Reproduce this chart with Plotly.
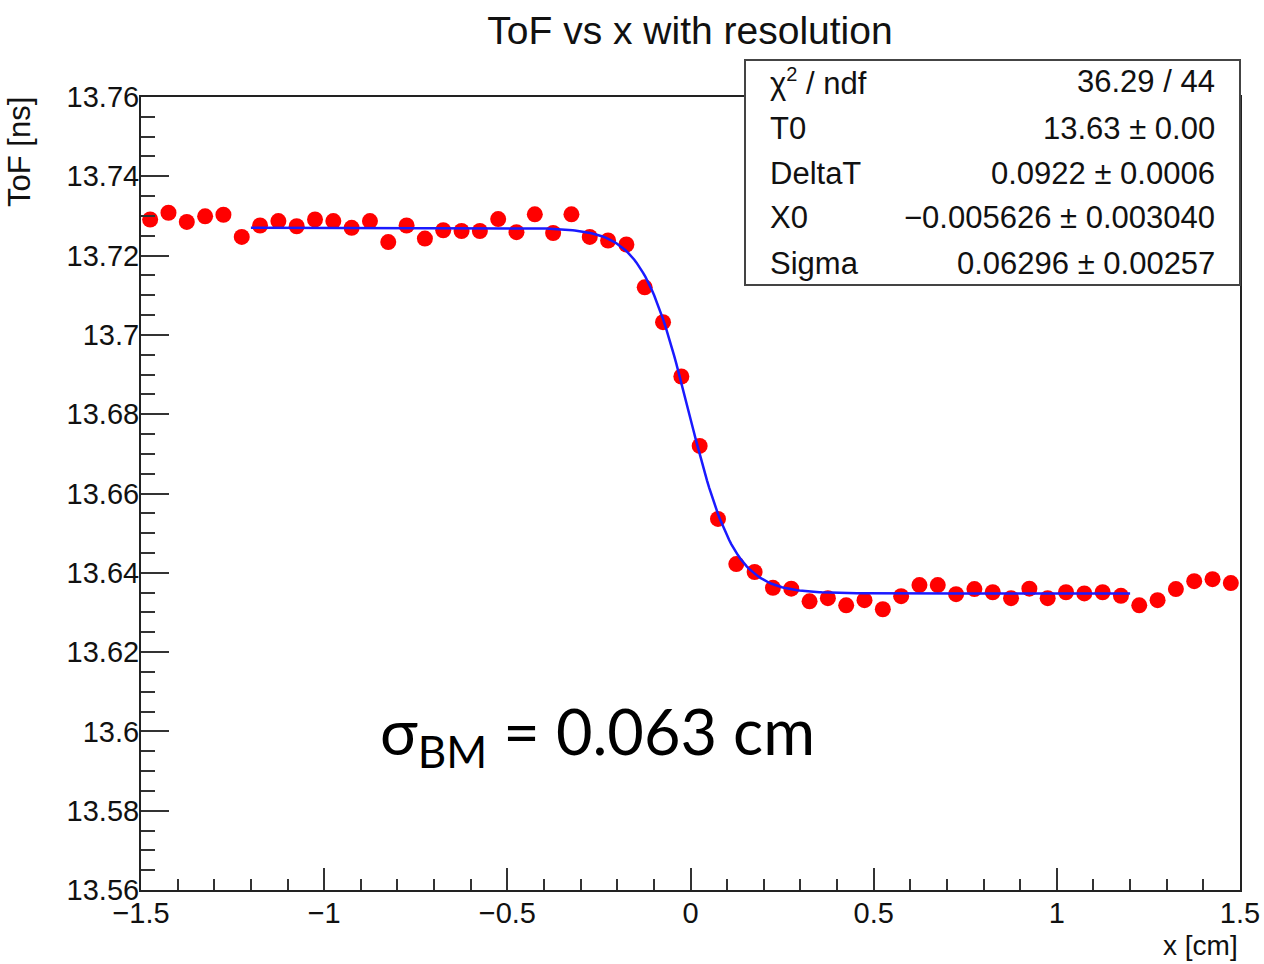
import math
import plotly.graph_objects as go

# ---- data ----
x_centers = [-1.475 + 0.05 * i for i in range(60)]
tof_values = [
    13.7291, 13.7308, 13.7285, 13.7299, 13.7303, 13.7247, 13.7276, 13.7287, 13.7274, 13.7291,
    13.7287, 13.7270, 13.7287, 13.7234, 13.7276, 13.7243, 13.7264, 13.7262, 13.7262, 13.7292,
    13.7259, 13.7304, 13.7257, 13.7304, 13.7247, 13.7238, 13.7228, 13.7120, 13.7032, 13.6895,
    13.6720, 13.6536, 13.6422, 13.6402, 13.6362, 13.6360, 13.6328, 13.6336, 13.6318, 13.6331,
    13.6308, 13.6341, 13.6369, 13.6369, 13.6346, 13.6359, 13.6351, 13.6336, 13.6360, 13.6336,
    13.6351, 13.6348, 13.6351, 13.6342, 13.6318, 13.6331, 13.6359, 13.6379, 13.6384, 13.6374,
]

# fit parameters (from the stats box)
T0 = 13.6348
DeltaT = 0.0922
X0 = -0.005626
Sigma = 0.06296
fit_range = (-1.2, 1.2)

stats_labels = ["χ<sup><span style='font-size:20px'>2</span></sup> / ndf", "T0", "DeltaT", "X0", "Sigma"]
stats_values = ["36.29 / 44", "13.63 ± 0.00", "0.0922 ± 0.0006",
                "−0.005626 ± 0.003040", "0.06296 ± 0.00257"]

x_tickvals = [-1.5, -1, -0.5, 0, 0.5, 1, 1.5]
x_ticktext = ["−1.5", "−1", "−0.5", "0", "0.5", "1", "1.5"]
y_tickvals = [13.56, 13.58, 13.6, 13.62, 13.64, 13.66, 13.68, 13.7, 13.72, 13.74, 13.76]
y_ticktext = ["13.56", "13.58", "13.6", "13.62", "13.64", "13.66", "13.68", "13.7", "13.72", "13.74", "13.76"]

# fit curve from the fit model (Fermi-like step)
n = 400
fit_x = [fit_range[0] + (fit_range[1] - fit_range[0]) * i / (n - 1) for i in range(n)]
fit_y = [T0 + DeltaT / (1.0 + math.exp((xx - X0) / Sigma)) for xx in fit_x]

FONT = "Liberation Sans, Arial, sans-serif"

fig = go.Figure()
fig.add_trace(go.Scatter(x=x_centers, y=tof_values, mode="markers",
                         marker=dict(color="#ff0000", size=16, line=dict(width=0)),
                         showlegend=False))
fig.add_trace(go.Scatter(x=fit_x, y=fit_y, mode="lines",
                         line=dict(color="#1a1aff", width=2.5), showlegend=False))

# layout geometry: plot area 141..1240 x, 97..890 y
L, R, T, B = 141, 1264 - 1240, 97, 964 - 890
W = 1240 - 141
H = 890 - 97


def px(xp):
    return (xp - 141) / W


def py(yp):
    return (890 - yp) / H


axis_common = dict(showline=True, linecolor="#222222", linewidth=2, mirror=True,
                   ticks="inside", tickcolor="#333333", tickwidth=2,
                   showgrid=False, zeroline=False, automargin=False,
                   tickfont=dict(family=FONT, size=29, color="#111111"))

fig.update_layout(
    width=1264, height=964,
    margin=dict(l=L, r=R, t=T, b=B, autoexpand=False),
    paper_bgcolor="white", plot_bgcolor="white",
    title=dict(text="ToF vs x with resolution", x=690 / 1264, xanchor="center",
               y=1 - 30 / 964, yanchor="middle",
               font=dict(family=FONT, size=39, color="#111111")),
    xaxis=dict(range=[-1.5, 1.5], tickvals=x_tickvals, ticktext=x_ticktext, ticklen=22,
               minor=dict(dtick=0.1, ticks="inside", ticklen=11, tickcolor="#333333", tickwidth=2),
               ticklabelstandoff=-4,
               **axis_common),
    yaxis=dict(range=[13.56, 13.76], tickvals=y_tickvals, ticktext=y_ticktext, ticklen=28,
               minor=dict(dtick=0.005, ticks="inside", ticklen=14, tickcolor="#333333", tickwidth=2),
               ticklabelstandoff=-6,
               **axis_common),
)

# axis titles (ROOT style placement)
fig.add_annotation(text="ToF [ns]", xref="paper", yref="paper", x=px(20), y=py(95),
                   xanchor="center", yanchor="top", textangle=-90, showarrow=False,
                   font=dict(family=FONT, size=31, color="#111111"))
fig.add_annotation(text="x [cm]", xref="paper", yref="paper", x=px(1240), y=py(945),
                   xanchor="right", yanchor="middle", showarrow=False,
                   font=dict(family=FONT, size=28, color="#111111"))

# stats box
fig.add_shape(type="rect", xref="paper", yref="paper", x0=px(745), x1=px(1240),
              y0=py(285), y1=py(60), fillcolor="white", line=dict(color="#444444", width=2),
              layer="above")
row_y = [82, 128, 174, 218, 263]
for lab, val, ry in zip(stats_labels, stats_values, row_y):
    fig.add_annotation(text=lab, xref="paper", yref="paper", x=px(768), y=py(ry),
                       xanchor="left", yanchor="middle", showarrow=False,
                       font=dict(family=FONT, size=31, color="#111111"))
    fig.add_annotation(text=val, xref="paper", yref="paper", x=px(1217), y=py(ry),
                       xanchor="right", yanchor="middle", showarrow=False,
                       font=dict(family=FONT, size=31, color="#111111"))

# resolution annotation
fig.add_annotation(text="σ<sub>BM</sub> = 0.063 cm", xref="paper", yref="paper",
                   x=px(378), y=py(735), xanchor="left", yanchor="middle", showarrow=False,
                   font=dict(family="Lato, Open Sans, sans-serif", size=63, color="#000000"))

fig.write_html("out.html", config={"displayModeBar": False},
               post_script="document.body.style.margin='0';document.body.style.overflow='hidden';")
